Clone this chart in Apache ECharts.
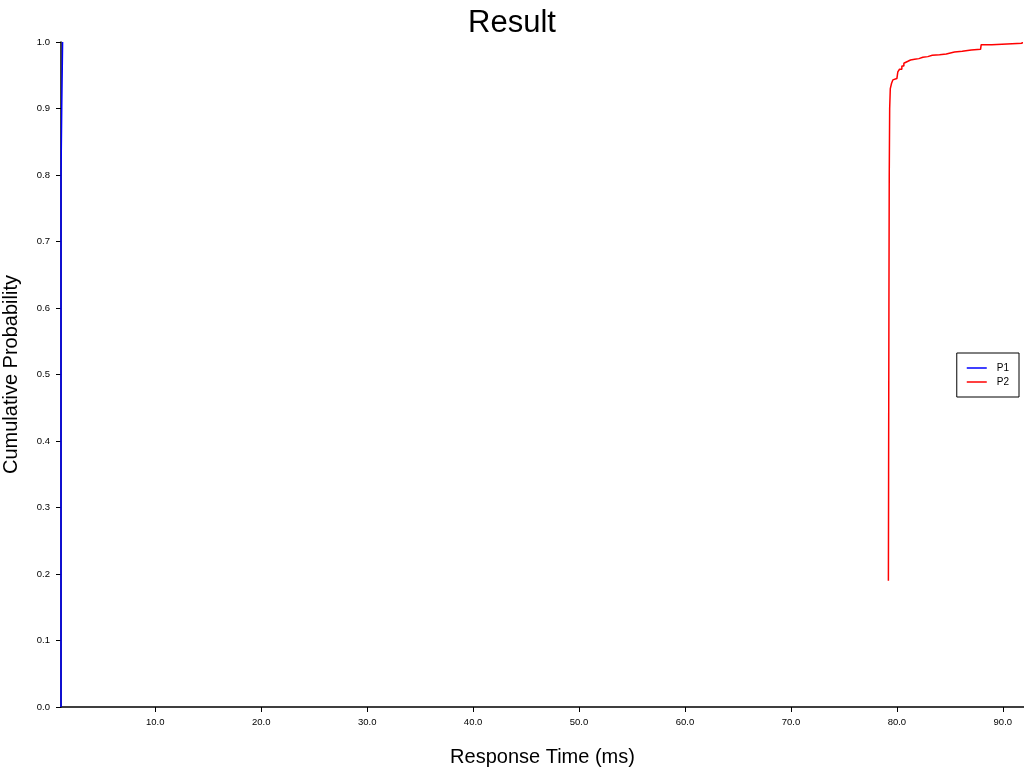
<!DOCTYPE html>
<html>
<head>
<meta charset="utf-8">
<title>Result</title>
<script src="https://cdn.jsdelivr.net/npm/echarts@6/dist/echarts.min.js"></script>
<style>
  html, body { margin: 0; padding: 0; background: #fff; }
  #chart { width: 1024px; height: 768px; }
</style>
</head>
<body>
<div id="chart"></div>
<script>
// response time (ms) and cumulative probability
const p1Times = [1.10, 1.10, 1.17, 1.25];
const p1Probs = [0.0, 0.797, 0.901, 1.0];

const p2Times = [79.20, 79.22, 79.25, 79.28, 79.32, 79.38, 79.50, 79.62, 79.78, 80.00,
  80.09, 80.25, 80.47, 80.66, 80.82, 81.04, 81.29, 81.67, 82.08, 82.45,
  82.92, 83.34, 84.03, 84.66, 85.44, 86.17, 87.02, 87.90, 87.96, 88.96, 91.83];
const p2Probs = [0.19, 0.35, 0.60, 0.80, 0.90, 0.930, 0.938, 0.943, 0.945, 0.948,
  0.955, 0.959, 0.964, 0.968, 0.971, 0.973, 0.974, 0.975, 0.977, 0.978,
  0.980, 0.981, 0.982, 0.985, 0.986, 0.988, 0.989, 0.990, 0.996, 0.998, 1.0];

const xTicks = [10, 20, 30, 40, 50, 60, 70, 80, 90];

const zip = (xs, ys) => xs.map((x, i) => [x, ys[i]]);

const chart = echarts.init(document.getElementById("chart"));

const axisFont = { color: "#000", fontSize: 9.5, fontFamily: "Liberation Sans" };

const options = {
  animation: false,
  title: {
    text: "Result",
    left: "center",
    top: 3,
    textStyle: { color: "#000", fontSize: 31, fontWeight: "normal", fontFamily: "Liberation Sans" },
  },
  legend: {
    orient: "vertical",
    right: 5,
    top: 353,
    padding: [10, 10],
    itemGap: 4,
    itemWidth: 20,
    itemHeight: 1.5,
    icon: "rect",
    borderColor: "#000",
    borderWidth: 1,
    textStyle: { color: "#000", fontSize: 10, fontFamily: "Liberation Sans", padding: [0, 0, 0, 5] },
    data: ["P1", "P2"],
  },
  grid: { left: 61, right: 0, top: 42, bottom: 61, outerBoundsMode: "none" },
  xAxis: {
    type: "value",
    min: 1.1,
    max: 92,
    name: "Response Time (ms)",
    nameLocation: "middle",
    nameGap: 40,
    nameTextStyle: { color: "#000", fontSize: 20, fontFamily: "Liberation Sans" },
    axisLine: { lineStyle: { color: "#000", width: 1.5 } },
    axisTick: { show: true, length: 5, lineStyle: { color: "#000" }, customValues: xTicks },
    axisLabel: { ...axisFont, margin: 10, customValues: xTicks, formatter: (v) => v.toFixed(1) },
    splitLine: { show: false },
  },
  yAxis: {
    type: "value",
    min: 0,
    max: 1,
    interval: 0.1,
    name: "Cumulative Probability",
    nameLocation: "middle",
    nameGap: 40,
    nameTextStyle: { color: "#000", fontSize: 20, fontFamily: "Liberation Sans" },
    axisLine: { show: true, lineStyle: { color: "#000", width: 1.5 } },
    axisTick: { show: true, length: 5, lineStyle: { color: "#000" } },
    axisLabel: { ...axisFont, margin: 11, formatter: (v) => v.toFixed(1) },
    splitLine: { show: false },
  },
  series: [
    {
      name: "P1",
      type: "line",
      step: "end",
      showSymbol: false,
      symbol: "none",
      color: "#0000ff",
      lineStyle: { width: 1.5 },
      data: zip(p1Times, p1Probs),
    },
    {
      name: "P2",
      type: "line",
      step: "end",
      showSymbol: false,
      symbol: "none",
      color: "#ff0000",
      lineStyle: { width: 1.5 },
      data: zip(p2Times, p2Probs),
    },
  ],
};

chart.setOption(options);
</script>
</body>
</html>
